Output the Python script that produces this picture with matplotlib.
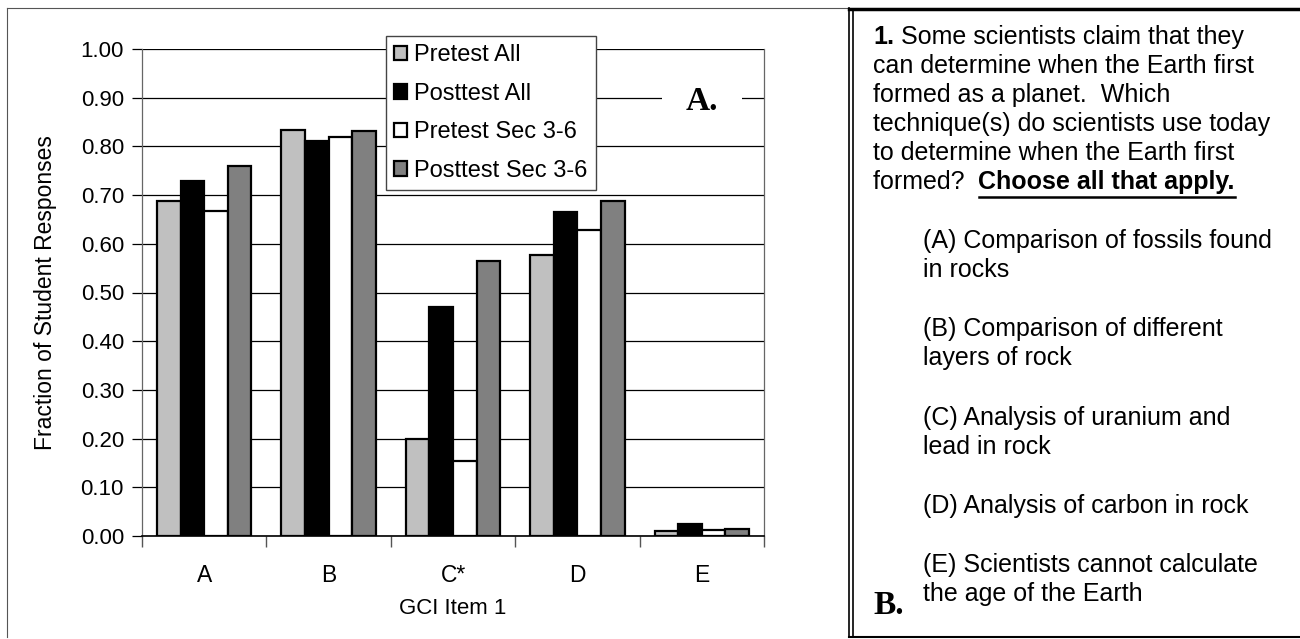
import matplotlib.pyplot as plt
import numpy as np
from matplotlib.lines import Line2D

plt.rcParams['font.family'] = ['Liberation Sans', 'DejaVu Sans']

# Data
categories = ['A', 'B', 'C*', 'D', 'E']
pretest_all = [0.687, 0.834, 0.199, 0.577, 0.010]
posttest_all = [0.728, 0.812, 0.471, 0.665, 0.025]
pretest_sec = [0.668, 0.819, 0.155, 0.629, 0.012]
posttest_sec = [0.759, 0.832, 0.565, 0.687, 0.014]
series_names = ['Pretest All', 'Posttest All', 'Pretest Sec 3-6', 'Posttest Sec 3-6']
series_colors = ['#c0c0c0', '#000000', '#ffffff', '#808080']

question_lines = [" Some scientists claim that they",
                  "can determine when the Earth first",
                  "formed as a planet.  Which",
                  "technique(s) do scientists use today",
                  "to determine when the Earth first",
                  "formed?  "]
option_lines = [["(A) Comparison of fossils found", "in rocks"],
                ["(B) Comparison of different", "layers of rock"],
                ["(C) Analysis of uranium and", "lead in rock"],
                ["(D) Analysis of carbon in rock"],
                ["(E) Scientists cannot calculate", "the age of the Earth"]]

W, H = 1300, 639
fig = plt.figure(figsize=(13, 6.39), dpi=100)
fig.patch.set_facecolor('white')

def fx(px):
    return px / W

def fy(py):
    return 1 - py / H

# panel borders
fig.add_artist(Line2D([fx(7), fx(7)], [fy(8), fy(637)], color='#555555', lw=0.8))
fig.add_artist(Line2D([fx(7), fx(849)], [fy(8), fy(8)], color='#555555', lw=0.8))
fig.add_artist(Line2D([fx(849), fx(1300)], [fy(9), fy(9)], color='black', lw=2.5))
fig.add_artist(Line2D([fx(849), fx(849)], [fy(8), fy(637)], color='black', lw=1.2))
fig.add_artist(Line2D([fx(853), fx(853)], [fy(9), fy(637)], color='black', lw=1.2))
fig.add_artist(Line2D([fx(849), fx(1300)], [fy(637), fy(637)], color='black', lw=1.5))

ax = fig.add_axes([fx(142), fy(536), fx(764) - fx(142), fy(49) - fy(536)])
x = np.arange(len(categories))
w = 0.19
all_series = [pretest_all, posttest_all, pretest_sec, posttest_sec]
for i, (vals, name, col) in enumerate(zip(all_series, series_names, series_colors)):
    ax.bar(x + (i - 1.5) * w, vals, width=w, color=col, edgecolor='black',
           linewidth=1.6, label=name, zorder=3)

ax.set_xlim(-0.5, 4.5)
ax.set_ylim(0, 1.0)
ax.set_yticks(np.arange(0, 1.01, 0.1))
ax.set_yticklabels([f'{v:.2f}' for v in np.arange(0, 1.01, 0.1)], fontsize=16)
ax.yaxis.grid(True, color='black', lw=0.9, zorder=0)
ax.set_axisbelow(True)
ax.set_xticks(x)
ax.set_xticklabels(categories, fontsize=16.5)
ax.set_xticks(np.arange(-0.5, 4.6, 1), minor=True)
ax.tick_params(axis='x', which='major', length=0, pad=20)
ax.tick_params(axis='x', which='minor', length=8, color='#555555', width=1)
ax.tick_params(axis='y', length=7, color='black', width=0.9, pad=6)
for side in ['left', 'right', 'top']:
    ax.spines[side].set_color('#666666')
    ax.spines[side].set_linewidth(0.9)
ax.spines['top'].set_visible(False)
ax.spines['bottom'].set_color('black')
ax.spines['bottom'].set_linewidth(1.2)
ax.set_xlabel('GCI Item 1', fontsize=16, labelpad=8)
ax.set_ylabel('Fraction of Student Responses', fontsize=16.5)
ax.yaxis.set_label_coords((57 - 142) / (764 - 142), 0.5)

leg = fig.legend(loc='upper left', bbox_to_anchor=(fx(386), fy(36)),
                 fontsize=17, frameon=True, fancybox=False, framealpha=1,
                 edgecolor='#444444', handlelength=0.55, handleheight=0.55,
                 handletextpad=0.3, labelspacing=0.7, borderpad=0.35,
                 borderaxespad=0)
leg.get_frame().set_linewidth(1.0)

fig.text(fx(702), fy(102), 'A.', fontsize=24, fontweight='bold', family='Liberation Serif',
         ha='center', va='center',
         bbox=dict(facecolor='white', edgecolor='none', pad=17))

# right panel text
fs = 18
line_y = [37, 66, 95, 124, 153, 182]
fig.canvas.draw()
r = fig.canvas.get_renderer()
t0 = fig.text(fx(873), fy(line_y[0]), '1.', fontsize=fs, fontweight='bold',
              va='center', ha='left')
bb0 = t0.get_window_extent(r)
fig.text(bb0.x1 / W, fy(line_y[0]), question_lines[0], fontsize=fs, va='center', ha='left')
for ly, txt in zip(line_y[1:], question_lines[1:]):
    t1 = fig.text(fx(873), fy(ly), txt, fontsize=fs, va='center', ha='left')
bb = t1.get_window_extent(r)
t2 = fig.text(bb.x1 / W, fy(line_y[-1]), 'Choose all that apply.', fontsize=fs,
              fontweight='bold', va='center', ha='left')
bb2 = t2.get_window_extent(r)
fig.add_artist(Line2D([bb2.x0 / W, bb2.x1 / W], [fy(197), fy(197)], color='black', lw=1.8))

opt_y = [241, 329, 418, 506, 565]
for oy, lines in zip(opt_y, option_lines):
    for k, txt in enumerate(lines):
        fig.text(fx(923), fy(oy + 29 * k), txt, fontsize=fs, va='center', ha='left')

fig.text(fx(873), fy(605), 'B.', fontsize=24, fontweight='bold', family='Liberation Serif',
         ha='left', va='center')

fig.savefig('out.png', dpi=100, facecolor='white')
